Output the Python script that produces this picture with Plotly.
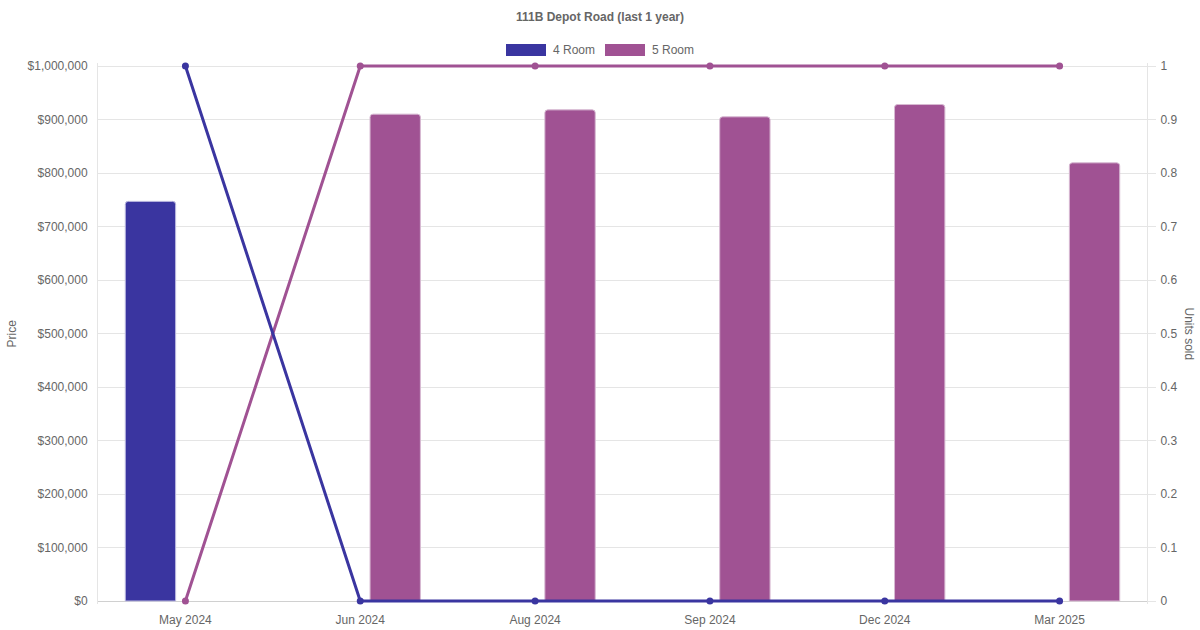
import plotly.graph_objects as go

# data
months = ["May 2024", "Jun 2024", "Aug 2024", "Sep 2024", "Dec 2024", "Mar 2025"]
price_4room = [747000, None, None, None, None, None]
price_5room = [None, 910000, 918000, 905000, 928000, 819000]
units_4room = [1, 0, 0, 0, 0, 0]
units_5room = [0, 1, 1, 1, 1, 1]

C4 = "#3A35A0"
C5 = "#A05293"
GRID = "#e5e5e5"
TXT = "#666666"
FONT = "Liberation Sans, Arial, Helvetica, sans-serif"

# plot area in pixels (for the hand made legend / axis titles)
W, H = 1200, 630
L, R, T, B = 98, 1147, 66, 601
PAD = 3  # extra px above/below so the lines at 0 and 1 are not clipped
frac = PAD / (B - T)


def px_x(x):
    return (x - L) / (R - L)


def px_y(y):
    return (B + PAD - y) / (B - T + 2 * PAD)


fig = go.Figure()

fig.add_trace(go.Bar(x=months, y=price_4room, name="4 Room", marker_color=C4,
                     marker_line=dict(color="rgba(190,188,225,1)", width=1),
                     showlegend=False))
fig.add_trace(go.Bar(x=months, y=price_5room, name="5 Room", marker_color=C5,
                     marker_line=dict(color="rgba(215,185,210,1)", width=1),
                     showlegend=False))

# units sold lines (5 Room under 4 Room)
fig.add_trace(go.Scatter(x=months, y=units_5room, yaxis="y2", mode="lines+markers",
                         line=dict(color=C5, width=3), marker=dict(color=C5, size=7),
                         cliponaxis=False, showlegend=False))
fig.add_trace(go.Scatter(x=months, y=units_4room, yaxis="y2", mode="lines+markers",
                         line=dict(color=C4, width=3), marker=dict(color=C4, size=7),
                         cliponaxis=False, showlegend=False))

# legend drawn by hand (wide boxes like the original)
shapes = []
annos = []
for x0, col, label in [(506, C4, "4 Room"), (605, C5, "5 Room")]:
    shapes.append(dict(type="rect", xref="paper", yref="paper",
                       x0=px_x(x0), x1=px_x(x0 + 40), y0=px_y(56), y1=px_y(44),
                       fillcolor=col, line=dict(width=0)))
    annos.append(dict(text=label, xref="paper", yref="paper", x=px_x(x0 + 45), y=px_y(50),
                      xanchor="left", yanchor="middle", showarrow=False,
                      font=dict(size=12, color=TXT, family=FONT)))

annos.append(dict(text="Price", xref="paper", yref="paper", x=px_x(11), y=0.5,
                  textangle=-90, xanchor="center", yanchor="middle", showarrow=False,
                  font=dict(size=12, color=TXT, family=FONT)))
annos.append(dict(text="Units sold", xref="paper", yref="paper", x=px_x(1189), y=0.5,
                  textangle=90, xanchor="center", yanchor="middle", showarrow=False,
                  font=dict(size=12, color=TXT, family=FONT)))

fig.update_layout(
    width=W, height=H,
    margin=dict(l=L, r=W - R, t=T - PAD, b=H - B - PAD, pad=0, autoexpand=False),
    paper_bgcolor="white", plot_bgcolor="white",
    font=dict(family=FONT, size=12, color=TXT),
    title=dict(text="<b>111B Depot Road (last 1 year)</b>", x=0.5, xanchor="center",
               y=1 - 17 / H, yanchor="middle", font=dict(size=12, color=TXT, family=FONT)),
    barmode="group", bargap=0.2, bargroupgap=0.28, barcornerradius=3,
    showlegend=False,
    xaxis=dict(showgrid=False, showline=False, ticks="", ticklabelstandoff=7,
               automargin=False, tickfont=dict(size=12, color=TXT), zeroline=False),
    yaxis=dict(range=[-frac * 1e6, (1 + frac) * 1e6], tick0=0, dtick=100000,
               tickprefix="$", tickformat=",", automargin=False,
               showgrid=True, gridcolor=GRID, gridwidth=1,
               zeroline=True, zerolinecolor="#d0d0d0", zerolinewidth=1,
               showline=True, linecolor=GRID, ticks="", ticklabelstandoff=7,
               tickfont=dict(size=12, color=TXT)),
    yaxis2=dict(range=[-frac, 1 + frac], tick0=0, dtick=0.1, overlaying="y", side="right",
                showgrid=False, zeroline=False, showline=True, linecolor=GRID,
                automargin=False,
                ticks="outside", ticklen=8, tickcolor=GRID, ticklabelstandoff=2,
                tickfont=dict(size=12, color=TXT)),
    shapes=shapes,
    annotations=annos,
)

fig.write_html("out.html", config={"displayModeBar": False},
               post_script="document.body.style.margin='0';")
